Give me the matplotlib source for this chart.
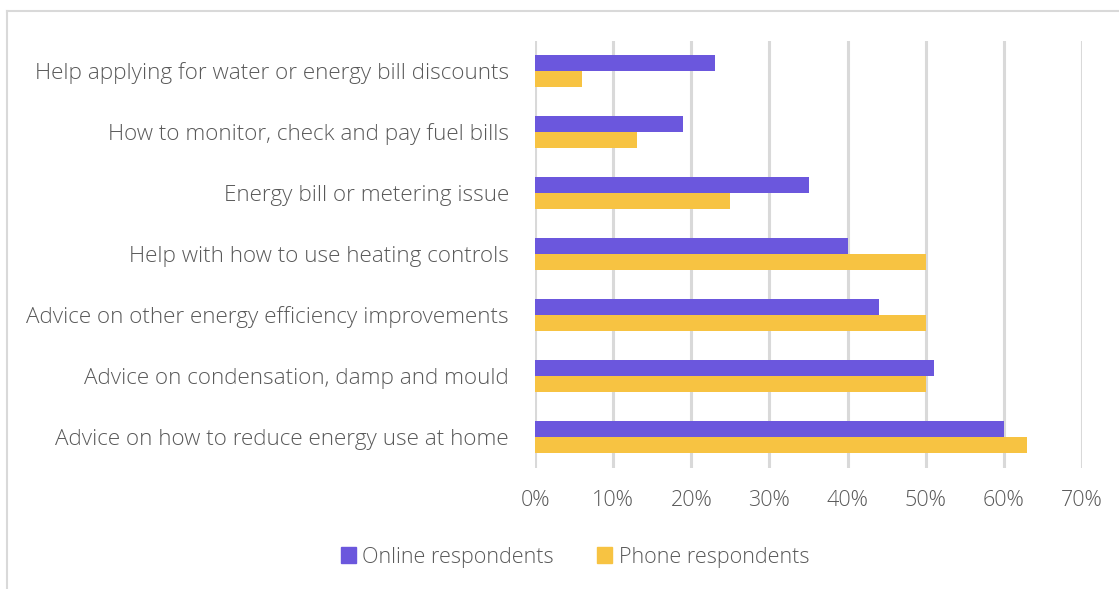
import matplotlib
matplotlib.use("Agg")
import matplotlib.pyplot as plt
from matplotlib.lines import Line2D
from matplotlib.patches import Patch
import numpy as np

categories = [
    "Help applying for water or energy bill discounts",
    "How to monitor, check and pay fuel bills",
    "Energy bill or metering issue",
    "Help with how to use heating controls",
    "Advice on other energy efficiency improvements",
    "Advice on condensation, damp and mould",
    "Advice on how to reduce energy use at home",
]
online = [0.23, 0.19, 0.35, 0.40, 0.44, 0.51, 0.60]
phone = [0.06, 0.13, 0.25, 0.50, 0.50, 0.50, 0.63]
xticks = [0, 0.1, 0.2, 0.3, 0.4, 0.5, 0.6, 0.7]
xticklabels = ["0%", "10%", "20%", "30%", "40%", "50%", "60%", "70%"]

PURPLE = "#6B57DD"
YELLOW = "#F7C342"
TEXT = "#595959"
GRID = "#D9D9D9"

plt.rcParams['font.family'] = ['Open Sans', 'DejaVu Sans']
plt.rcParams['font.weight'] = 'light'

fig = plt.figure(figsize=(11.19, 5.89), dpi=100)
ax = fig.add_axes([535/1119, 1-467.5/589, (1082-535)/1119, (467.5-40.5)/589])

y = np.arange(len(categories))
h = 0.26
ax.barh(y - h/2, online, height=h, color=PURPLE, zorder=3)
ax.barh(y + h/2, phone, height=h, color=YELLOW, zorder=3)

FS = 15.5
ax.set_ylim(len(categories) - 0.5, -0.5)
ax.set_xlim(0, 0.7)
ax.set_yticks(y)
ax.set_yticklabels(categories, fontsize=16.2, color=TEXT)
ax.set_xticks(xticks)
ax.set_xticklabels(xticklabels, fontsize=FS, color=TEXT)
ax.tick_params(axis='y', length=0, pad=18.7)
ax.tick_params(axis='x', length=0, pad=16)
ax.grid(axis='x', color=GRID, linewidth=2.2, zorder=0)
for s in ax.spines.values():
    s.set_visible(False)

handles = [Patch(color=PURPLE, label="Online respondents"),
           Patch(color=YELLOW, label="Phone respondents")]
leg = fig.legend(handles=handles, loc='center', bbox_to_anchor=(575/1119, 1-557/589),
                 ncol=2, frameon=False, fontsize=FS, handlelength=0.7, handleheight=0.7,
                 handletextpad=0.3, columnspacing=2.0)
for t in leg.get_texts():
    t.set_color(TEXT)

fig.add_artist(Line2D([6.5/1119, 1], [1-10.5/589, 1-10.5/589], color=GRID, linewidth=1.5, transform=fig.transFigure))
fig.add_artist(Line2D([6.5/1119, 6.5/1119], [1-10.5/589, 0], color=GRID, linewidth=1.5, transform=fig.transFigure))

fig.savefig("out.png", dpi=100)
